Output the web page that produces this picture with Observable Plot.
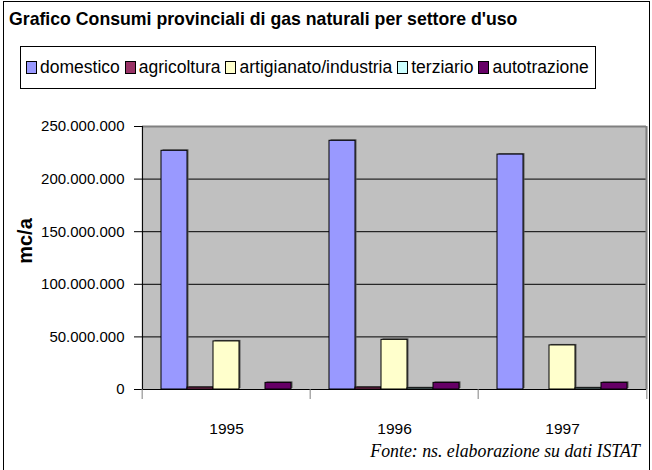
<!DOCTYPE html>
<html><head><meta charset="utf-8">
<script src="https://cdn.jsdelivr.net/npm/d3@7"></script>
<script src="https://cdn.jsdelivr.net/npm/@observablehq/plot@0.6"></script>
<style>
body{margin:0;background:#fff;}
#wrap{position:relative;width:652px;height:470px;overflow:hidden;background:#fff;font-family:"Liberation Sans",Arial,sans-serif;}
#border{position:absolute;left:3px;top:1px;width:645px;height:490px;border:1.5px solid #000;}
#title{position:absolute;left:9px;top:9px;font-weight:bold;font-size:17.7px;white-space:nowrap;}
#legend{position:absolute;left:20px;top:46px;width:576px;height:43px;border:1px solid #000;box-sizing:border-box;display:flex;align-items:center;padding-left:5px;font-size:17.5px;white-space:nowrap;}
.item{display:flex;align-items:center;margin-right:5px;}
.sw{width:9px;height:11px;border:1px solid #000;margin-right:3px;}
#ylab{position:absolute;left:25px;top:241px;transform:translate(-50%,-50%) rotate(-90deg);font-weight:bold;font-size:20px;white-space:nowrap;}
#chart{position:absolute;left:0;top:100px;}
#caption{position:absolute;right:12px;top:441px;font-family:"Liberation Serif","Times New Roman",serif;font-style:italic;font-size:17.8px;white-space:nowrap;}
</style></head>
<body>
<div id="wrap">
  <div id="border"></div>
  <div id="title"></div>
  <div id="legend"></div>
  <div id="chart"></div>
  <div id="ylab"></div>
  <div id="caption"></div>
</div>
<script>
const titleText = "Grafico Consumi provinciali di gas naturali per settore d'uso";
const yLabel = "mc/a";
const captionText = "Fonte: ns. elaborazione su dati ISTAT";
const years = ["1995", "1996", "1997"];
const sectors = ["domestico", "agricoltura", "artigianato/industria", "terziario", "autotrazione"];
const colors = ["#9999FF", "#993366", "#FFFFCC", "#CCFFFF", "#660066"];
const domestico = [226.9e6, 236.4e6, 223.3e6];
const agricoltura = [1.8e6, 1.8e6, null];
const artigianato = [45.7e6, 47.2e6, 41.9e6];
const terziario = [null, 1.2e6, 1.2e6];
const autotrazione = [6.3e6, 6.3e6, 6.3e6];
const yTicks = [0, 50e6, 100e6, 150e6, 200e6, 250e6];

const series = [domestico, agricoltura, artigianato, terziario, autotrazione];
const rows = years.flatMap((yr, i) => sectors.map((s, j) => ({year: yr, sector: s, value: series[j][i]})))
  .filter(d => d.value != null);

document.getElementById("title").textContent = titleText;
document.getElementById("ylab").textContent = yLabel;
document.getElementById("caption").textContent = captionText;
const leg = document.getElementById("legend");
sectors.forEach((s, j) => {
  const it = document.createElement("div"); it.className = "item";
  const sw = document.createElement("div"); sw.className = "sw"; sw.style.background = colors[j];
  const tx = document.createElement("span"); tx.textContent = s;
  it.append(sw, tx); leg.append(it);
});

const fmt = d3.formatLocale({decimal: ",", thousands: ".", grouping: [3], currency: ["", ""]}).format(",");
const W = 652, H = 345, ML = 141, MR = 5, MT = 26, MB = 56;
const po = 0.72;
const fw = (W - ML - MR) / years.length;
const step = fw / (sectors.length + 2 * po);
const edge = (po + 0.5) * step;

const chart = Plot.plot({
  width: W, height: H,
  marginLeft: ML, marginRight: MR, marginTop: MT, marginBottom: MB,
  style: {fontFamily: "'Liberation Sans', Arial, sans-serif", fontSize: "15px", color: "#000", background: "transparent", overflow: "visible"},
  fx: {domain: years, padding: 0, label: null, axis: null},
  x: {domain: sectors, paddingInner: 0, paddingOuter: po, axis: null},
  y: {domain: [0, 250e6], axis: null},
  color: {domain: sectors, range: colors},
  marks: [
    Plot.frame({fill: "#C0C0C0", stroke: null, insetLeft: -1, insetRight: -1}),
    Plot.ruleY(yTicks.slice(1, -1), {stroke: "#000", strokeWidth: 1}),
    Plot.ruleY([yTicks[yTicks.length - 1]], {stroke: "#808080", strokeWidth: 2}),
    Plot.ruleX([{year: years[years.length - 1]}], {fx: "year", x: () => sectors[sectors.length - 1], dx: edge, y1: 0, y2: 250e6, stroke: "#808080", strokeWidth: 2}),
    Plot.barY(rows, {fx: "year", x: "sector", y: "value", fill: "#555", dx: 1.5, dy: -1, inset: 0}),
    Plot.barY(rows, {fx: "year", x: "sector", y: "value", fill: "sector", stroke: "#000", strokeWidth: 1, inset: 0}),
    Plot.ruleY([0], {stroke: "#000", strokeWidth: 1}),
    Plot.ruleX([{year: years[0]}], {fx: "year", x: () => sectors[0], dx: -edge, y1: 0, y2: 250e6, stroke: "#000", strokeWidth: 1}),
    Plot.axisY({ticks: yTicks, tickSize: 8, tickPadding: 10, tickFormat: fmt, label: null, stroke: "#000", style: {letterSpacing: "-0.3px"}}),
    Plot.axisFx({anchor: "bottom", tickSize: 0, tickPadding: 33, label: null, fontSize: 15.5, style: {letterSpacing: "-0.5px"}}),
    Plot.axisFx({anchor: "bottom", tickSize: 10, tickFormat: () => "", label: null, dx: -fw / 2, stroke: "#808080"}),
    Plot.axisFx({anchor: "bottom", ticks: [years[years.length - 1]], tickSize: 10, tickFormat: () => "", label: null, dx: fw / 2, stroke: "#808080"})
  ]
});
document.getElementById("chart").append(chart);
</script>
</body></html>
